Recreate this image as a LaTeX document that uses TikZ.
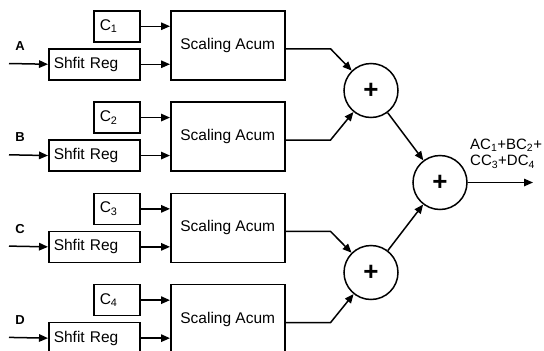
\documentclass[tikz,border=0pt]{standalone}
\usepackage{fontspec}
\setmainfont{Liberation Sans}
\usetikzlibrary{arrows.meta,calc}
\begin{document}
\begin{tikzpicture}[x=1pt,y=-1pt,
  lw/.style={line width=1.5pt},
  arr/.style={lw,-{Triangle[length=9pt,width=7.5pt]}},
  boxtext/.style={font=\fontsize{15.5}{18}\selectfont},
  coef/.style={draw,lw,boxtext,anchor=north west,minimum width=46pt,minimum height=31pt,
    inner ysep=0pt,inner xsep=6pt,text width=34pt,align=left},
  shreg/.style={draw,lw,boxtext,anchor=north west,minimum width=91pt,minimum height=31pt,
    inner ysep=0pt,inner xsep=5pt,text width=81pt,align=left},
  acum/.style={draw,lw,boxtext,anchor=north west,minimum width=114pt,minimum height=69pt,
    inner sep=0pt},
  inlabel/.style={font=\bfseries\fontsize{13}{13}\selectfont,inner sep=0pt},
  sum/.style={draw,lw,circle,minimum size=54pt,inner sep=0pt,
    font=\bfseries\fontsize{26}{26}\selectfont}
]
\useasboundingbox (0,0) rectangle (544,351);
\clip (0,0) rectangle (544,351);

% four input channels: coefficient, shift register and scaling accumulator
\foreach \i/\L in {0/A,1/B,2/C,3/D}{
  \pgfmathsetmacro\T{10+91.3*\i}
  \pgfmathtruncatemacro\n{\i+1}
  \node[coef] (c\L) at (93,\T) {C\textsubscript{\n}};
  \node[shreg] (r\L) at (48,\T+38) {Shfit Reg};
  \node[acum] (s\L) at (170,\T) {Scaling Acum};
  \node[inlabel] (l\L) at (20,\T+36) {\L};
  \coordinate (in\L) at (9,\T+53.5);
  \draw[arr] (in\L) -- (r\L.west);
  \draw[arr] (c\L.east) -- (c\L.east -| s\L.west);
  \draw[arr] (r\L.east) -- (r\L.east -| s\L.west);
}

% adder tree
\node[sum] (p1) at (371,90.5) {+};
\node[sum] (p3) at (371,272.5) {+};
\node[sum] (p2) at (440,182.5) {+};

\draw[arr] ([yshift=-3.5pt]sA.east) -- ++(45,0) -- (p1);
\draw[arr] ([yshift=-3.5pt]sB.east) -- ++(45,0) -- (p1);
\draw[arr] ([yshift=-3.5pt]sC.east) -- ++(45,0) -- (p3);
\draw[arr] ([yshift=-3.5pt]sD.east) -- ++(45,0) -- (p3);
\draw[arr] (p1) -- (p2);
\draw[arr] (p3) -- (p2);

\coordinate (out) at (533,182.5);
\draw[arr] (p2.east) -- (out);
\node[anchor=west,align=left,inner sep=0pt,font=\fontsize{15}{16.5}\selectfont] (res) at (470,153.5)
  {AC\textsubscript{1}+BC\textsubscript{2}+\\CC\textsubscript{3}+DC\textsubscript{4}};
\end{tikzpicture}
\end{document}
